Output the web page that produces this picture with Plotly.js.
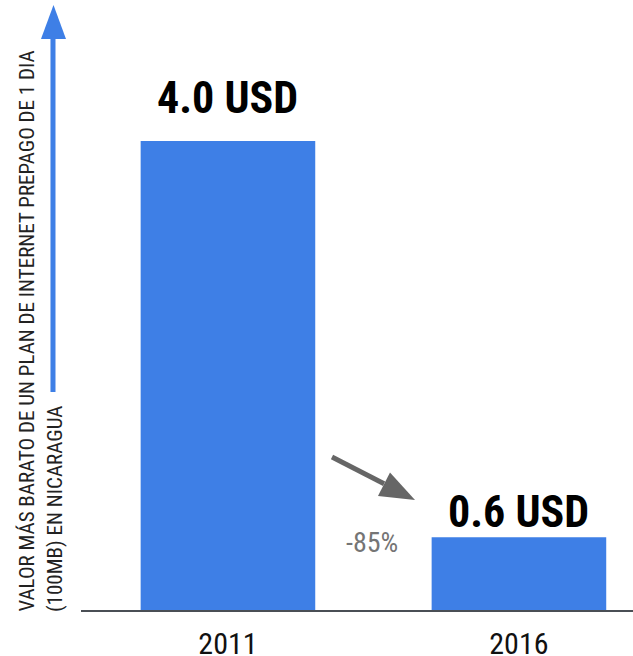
<!DOCTYPE html>
<html>
<head>
<meta charset="utf-8">
<script src="https://cdn.plot.ly/plotly-3.0.1.min.js"></script>
<style>html,body{margin:0;padding:0;background:#fff;}</style>
</head>
<body>
<div id="chart" style="width:633px;height:656px;"></div>
<script>
var years = ['2011', '2016'];
var values = [4.0, 0.62];
var valueLabels = ['4.0 USD', '0.6 USD'];
var changeLabel = '-85%';
var yTitleLines = ['VALOR MÁS BARATO DE UN PLAN DE INTERNET PREPAGO DE 1 DIA', '(100MB) EN NICARAGUA'];

var FONT = 'Roboto Condensed, Liberation Sans Narrow, DejaVu Sans Condensed, Roboto, sans-serif';
var W = 633, H = 656, ML = 81, MR = 0, MT = 10, MB = 46;
var PW = W - ML - MR, PH = H - MT - MB;
function px(x, y) { return [((x - ML) / PW).toFixed(4), ((H - MB - y) / PH).toFixed(4)]; }
function path(pts) {
  return pts.map(function (p, i) { var q = px(p[0], p[1]); return (i ? 'L' : 'M') + q[0] + ',' + q[1]; }).join(' ') + ' Z';
}

var trace = {
  type: 'bar',
  x: years,
  y: values,
  width: 0.6,
  marker: { color: '#3e7fe6' },
  hoverinfo: 'skip'
};

var labelShift = [16, -2];
var annotations = values.map(function (v, i) {
  return {
    x: i, y: v, xref: 'x', yref: 'y',
    text: '<b>' + valueLabels[i] + '</b>', showarrow: false,
    xanchor: 'center', yanchor: 'bottom', yshift: labelShift[i], borderpad: 0,
    font: { family: FONT, size: 44, color: '#000' }
  };
});
var p85 = px(372, 543);
annotations.push({
  x: +p85[0], y: +p85[1], xref: 'paper', yref: 'paper',
  text: changeLabel, showarrow: false, xanchor: 'center', yanchor: 'middle',
  font: { family: FONT, size: 28, color: '#757575' }
});
var t1 = px(27, 613), t2 = px(55, 613);
annotations.push({
  x: +t1[0], y: +t1[1], xref: 'paper', yref: 'paper', text: yTitleLines[0],
  showarrow: false, textangle: -90, xanchor: 'center', yanchor: 'bottom', borderpad: 0,
  font: { family: FONT, size: 21, color: '#222' }
});
annotations.push({
  x: +t2[0], y: +t2[1], xref: 'paper', yref: 'paper', text: yTitleLines[1],
  showarrow: false, textangle: -90, xanchor: 'center', yanchor: 'bottom', borderpad: 0,
  font: { family: FONT, size: 21, color: '#222' }
});

var shapes = [
  { type: 'path', xref: 'paper', yref: 'paper', line: { width: 0 }, fillcolor: '#3e7fe6',
    path: path([[50.5, 392], [55.5, 392], [55.5, 38], [50.5, 38]]) },
  { type: 'path', xref: 'paper', yref: 'paper', line: { width: 0 }, fillcolor: '#3e7fe6',
    path: path([[41, 39], [66, 39], [53.5, 5]]) },
  { type: 'path', xref: 'paper', yref: 'paper', line: { width: 0 }, fillcolor: '#666666',
    path: path([[330.9, 459.2], [333.1, 454.8], [385.2, 481.6], [383.0, 486.0]]) },
  { type: 'path', xref: 'paper', yref: 'paper', line: { width: 0 }, fillcolor: '#666666',
    path: path([[378, 496], [390, 472.5], [415, 500]]) }
];

var layout = {
  width: W, height: H,
  margin: { l: ML, r: MR, t: MT, b: MB, pad: 0 },
  paper_bgcolor: '#fff', plot_bgcolor: '#fff',
  showlegend: false,
  bargap: 0.4,
  xaxis: {
    type: 'category', range: [-0.505, 1.392], fixedrange: true,
    showline: true, linecolor: '#4a4f55', linewidth: 2,
    showgrid: false, zeroline: false, ticks: '', ticklabelstandoff: 6,
    tickfont: { family: FONT, size: 30, color: '#111' }
  },
  yaxis: {
    range: [0, PH / 117.25], showgrid: false, zeroline: false, showline: false,
    showticklabels: false, ticks: '', fixedrange: true
  },
  annotations: annotations,
  shapes: shapes
};

Plotly.newPlot('chart', [trace], layout, { displayModeBar: false, staticPlot: true });
</script>
</body>
</html>
